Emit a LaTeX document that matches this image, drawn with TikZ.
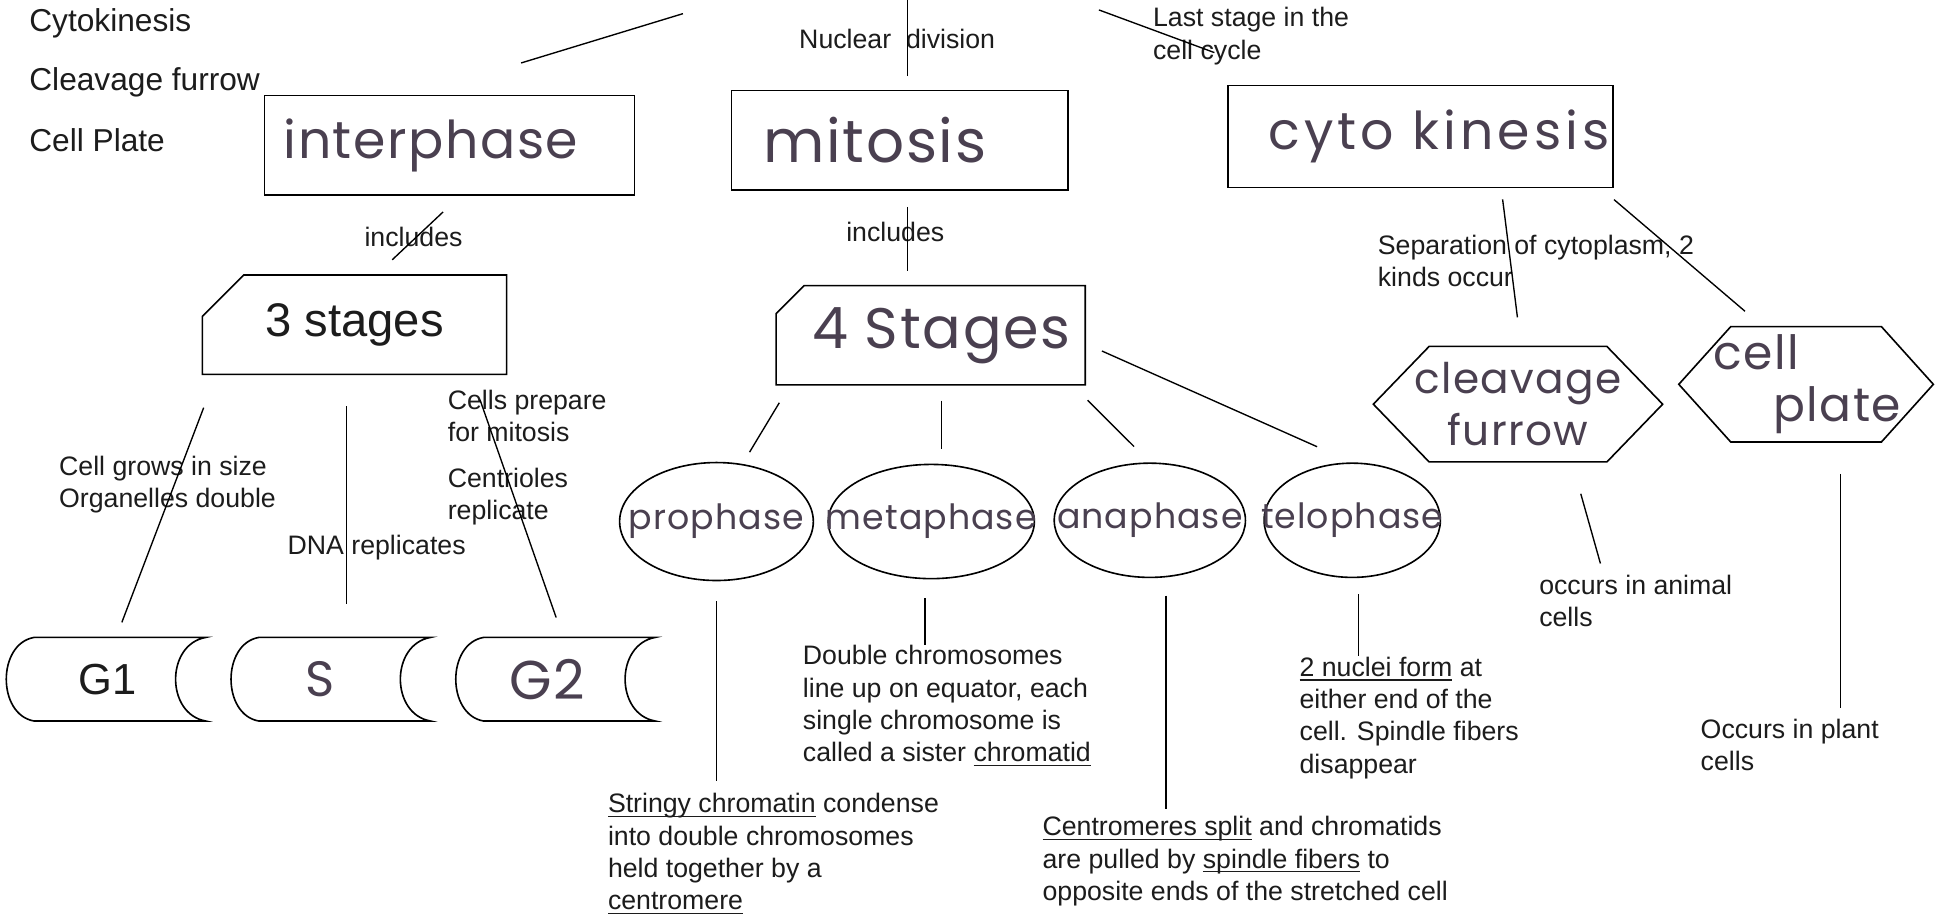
\documentclass[tikz,border=0pt]{standalone}
\usepackage{fontspec}
\setmainfont{Liberation Sans}
\newfontfamily\handfont[LetterSpace=3]{Poppins}
\usetikzlibrary{positioning,shapes}

\definecolor{ink}{HTML}{4A4050}
\definecolor{lead}{HTML}{1C1C1C}

\newcommand\undr[1]{\setbox0=\hbox{#1}\rlap{\rule[-3.5pt]{\wd0}{0.9pt}}\box0\relax}
\newcommand\nowide[1]{\makebox[0pt]{#1}}

\begin{document}
\begin{tikzpicture} [x=1pt,y=-1pt,node distance=181pt,line width=1.3pt,
  every node/.style={inner sep=0pt,text=lead},
  key/.style={anchor=west,font=\fontsize{25.5}{30}\selectfont},
  note/.style={anchor=west,align=left,font=\fontsize{21.5}{26}\selectfont},
  hand/.style={text=ink,font=\handfont\fontsize{#1}{#1}\selectfont},
  box/.style={draw,rectangle,minimum height=80pt},
  card/.style={draw,chamfered rectangle,chamfered rectangle corners=north west,
    chamfered rectangle xsep=46pt,chamfered rectangle ysep=16pt,minimum height=80pt},
  phase/.style={draw,ellipse,minimum height=92pt,hand=28},
  hexa/.style={draw,signal,signal to=east and west,minimum height=93pt,align=center,
    text=ink,font=\handfont\fontsize{34}{42}\selectfont},
  tape/.style={minimum width=157pt,minimum height=66pt},
  link/.style={line width=1.1pt}]

  \fill[white] (0,0) rectangle (1568,736);
  \useasboundingbox (0,0) rectangle (1568,736);

  % key words
  \node[key] (kcyto) at (23,19) {Cytokinesis};
  \node[key] (kclea) at (23,66) {Cleavage furrow};
  \node[key] (kplate) at (23,113) {Cell Plate};

  % top row
  \node[box,minimum width=298pt,hand=42] (inter) at (362,117) {\nowide{interphase\hspace{30pt}}};
  \node[box,minimum width=271pt,hand=48] (mito) at (724.5,113) {\nowide{mitosis\hspace{40pt}}};
  \node[box,minimum width=310pt,minimum height=82pt,hand=42] (cyto) at (1144,110)
    {\nowide{\hspace{30pt}\addfontfeature{LetterSpace=8}cyto kinesis}};

  \node[note] (nucl) at (643,31) {Nuclear\ \ division};
  \node[note] (last) at (928,29) {Last stage in the\\cell cycle};
  \node[note,anchor=center] (inc1) at (333,191) {includes};
  \node[note,anchor=center] (inc2) at (721,187) {includes};
  \node[note] (sepa) at (1109,210) {Separation of cytoplasm, 2\\kinds occur};

  % stages
  \node[card,minimum width=245pt,font=\fontsize{38}{38}\selectfont] (three) at (285.5,261.5) {3 stages};
  \node[card,minimum width=249pt,hand=46] (four) at (749.5,270) {\nowide{\hspace{17pt}4 Stages}};

  \node[tape,font=\fontsize{35}{35}\selectfont] (g1) at (86.5,547) {G1};
  \node[tape,hand=40] (s) [right of=g1] {\nowide{S\hspace{20pt}}};
  \node[tape,hand=44] (g2) [right of=s] {\nowide{G2\hspace{16pt}}};

  \node[note] (grow) at (47,390) {Cell grows in size\\Organelles double};
  \node[note] (dna) at (231,441) {DNA replicates};
  \node[note] (prep) at (360,335) {Cells prepare\\for mitosis};
  \node[note] (cent) at (360,400) {Centrioles\\replicate};

  % phases
  \node[phase,minimum width=156pt,minimum height=95pt] (pro) at (577,420) {\nowide{prophase}};
  \node[phase,minimum width=166pt] (meta) at (750,420) {\nowide{metaphase}};
  \node[phase,minimum width=154pt] (ana) at (926,419) {\nowide{anaphase}};
  \node[phase,minimum width=142pt] (telo) at (1089,419) {\nowide{telophase}};

  \node[note] (protxt) at (489,687.5) {\undr{Stringy chromatin} condense\\into double chromosomes\\held together by a\\\undr{centromere}};
  \node[note] (metatxt) at (646,568.5) {Double chromosomes\\line up on equator, each\\single chromosome is\\called a sister \undr{chromatid}};
  \node[note] (anatxt) at (839,693.5) {\undr{Centromeres split} and chromatids\\are pulled by \undr{spindle fibers} to\\opposite ends of the stretched cell};
  \node[note] (telotxt) at (1046,578) {\undr{2 nuclei form} at\\either end of the\\cell. Spindle fibers\\disappear};

  % two kinds
  \node[hexa,minimum width=233pt,signal pointer angle=92] (clea) at (1222.5,325.5)
    {\nowide{cleavage}\\\nowide{furrow}};
  \node[hexa,minimum width=205pt,signal pointer angle=96,font=\handfont\fontsize{38}{42}\selectfont] (plate) at (1454.5,309.5)
    {\nowide{cell\hspace{80pt}}\\\nowide{\hspace{50pt}plate}};
  \node[note] (animal) at (1239,484) {occurs in animal\\cells};
  \node[note] (plant) at (1369,600) {Occurs in plant\\cells};

  \foreach \n in {g1,s,g2}
    \draw ([xshift=20pt]\n.north west) -- (\n.north east)
      to[bend right=80,looseness=1.25] (\n.south east) -- ([xshift=20pt]\n.south west)
      to[bend left=80,looseness=1.15] ([xshift=20pt]\n.north west);

  \coordinate (top1) at (550,11);
  \coordinate (top2) at (731,0);
  \coordinate (top3) at (885,8);

  \path[link]
    ([xshift=-26.5pt]inter.north) edge [shorten <=88pt] (top1)
    ([xshift=6.5pt]mito.north) edge [shorten <=11pt] (top2)
    ([xshift=60pt]cyto.north west) edge [shorten <=75pt] (top3)
    ([xshift=8.7pt]inter.south) edge [shorten <=19pt,shorten >=17pt] ([xshift=18pt]three.north)
    ([xshift=6.5pt]mito.south) edge [shorten <=13pt,shorten >=11pt] ([xshift=-18.5pt]four.north)
    ([xshift=65pt]cyto.south) edge [shorten <=9pt,shorten >=23pt] ([xshift=2.4pt]clea.north)
    ([xshift=-10.5pt]cyto.south east) edge [shorten <=14pt,shorten >=18pt] ([xshift=-35.5pt]plate.north)
    ([xshift=-111.5pt]three.south) edge [shorten <=28pt,shorten >=13pt] ([xshift=7pt]g1.north)
    ([xshift=-6.5pt]three.south) edge [shorten <=25pt,shorten >=27pt] ([xshift=11.5pt]s.north)
    ([xshift=-29pt]three.south east) edge [shorten <=21pt,shorten >=17pt] ([xshift=5pt]g2.north)
    ([xshift=11.5pt]four.south west) edge [shorten <=16pt,shorten >=9pt] ([xshift=22pt]pro.north)
    ([xshift=8.5pt]four.south) edge [shorten <=12pt,shorten >=12pt] ([xshift=8pt]meta.north)
    ([xshift=-10.4pt]four.south east) edge [shorten <=16.5pt,shorten >=18pt] (ana.north)
    ([yshift=-7pt]four.east) edge [shorten <=14pt,shorten >=31pt] (telo.north)
    (pro.south) edge [shorten <=16pt,shorten >=9pt] (pro.south |- protxt.north)
    ([xshift=-5pt]meta.south) edge [shorten <=15pt] ([xshift=-5pt]meta.south |- metatxt.north)
    ([xshift=13pt]ana.south) edge [shorten <=14pt,shorten >=5pt] ([xshift=13pt]ana.south |- anatxt.north)
    ([xshift=5pt]telo.south) edge [shorten <=13pt] ([xshift=5pt]telo.south |- telotxt.north)
    ([xshift=43.5pt]clea.south) edge [shorten <=26pt,shorten >=9pt] ([xshift=-26pt]animal.north)
    ([xshift=27.5pt]plate.south) edge [shorten <=25pt,shorten >=8pt] ([xshift=27.5pt]plate.south |- plant.north);

\end{tikzpicture}
\end{document}
